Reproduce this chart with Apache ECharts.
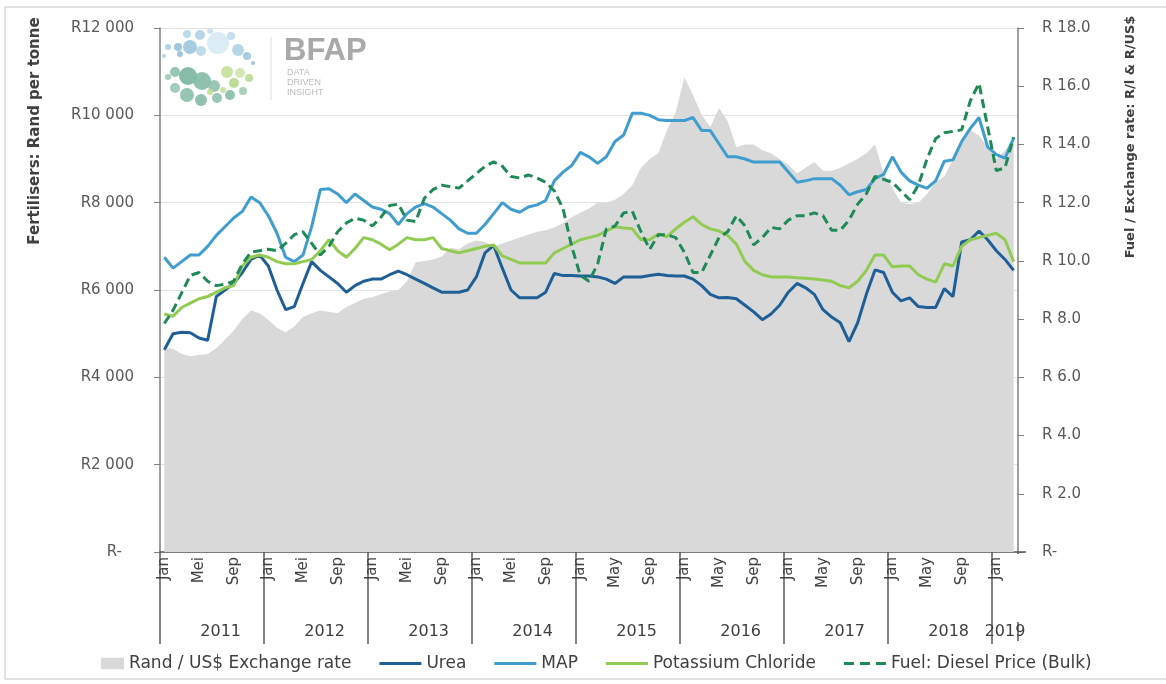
<!DOCTYPE html>
<html>
<head>
<meta charset="utf-8">
<script src="https://cdn.jsdelivr.net/npm/echarts@6/dist/echarts.min.js"></script>
<style>
html, body { margin: 0; padding: 0; background: #fff; }
#main { width: 1166px; height: 684px; }
</style>
</head>
<body>
<div id="main"></div>
<script>
// x axis: months per year, Afrikaans labels up to 2014, English after
var years = ['2011', '2012', '2013', '2014', '2015', '2016', '2017', '2018', '2019'];
var monthsInYear = [12, 12, 12, 12, 12, 12, 12, 12, 3];
var monthsAfr = ['Jan', 'Feb', 'Mrt', 'Apr', 'Mei', 'Jun', 'Jul', 'Aug', 'Sep', 'Okt', 'Nov', 'Des'];
var monthsEng = ['Jan', 'Feb', 'Mar', 'Apr', 'May', 'Jun', 'Jul', 'Aug', 'Sep', 'Oct', 'Nov', 'Dec'];
var afrYears = ['2011', '2012', '2013', '2014'];

// Rand / US$ exchange rate (right axis)
var exchangeRate = [
    7.0, 6.98, 6.8, 6.72, 6.77, 6.8, 7.0, 7.3, 7.6, 8.0, 8.3, 8.2,
    7.97, 7.7, 7.55, 7.75, 8.07, 8.2, 8.3, 8.25, 8.2, 8.42, 8.55, 8.7,
    8.75, 8.85, 8.95, 9.0, 9.3, 9.95, 10.0, 10.05, 10.15, 10.45, 10.4, 10.6,
    10.7, 10.65, 10.5, 10.6, 10.7, 10.8, 10.9, 11.0, 11.05, 11.15, 11.3, 11.5,
    11.65, 11.8, 12.0, 12.0, 12.1, 12.3, 12.6, 13.2, 13.5, 13.7, 14.5, 15.1,
    16.3, 15.7, 15.0, 14.6, 15.25, 14.8, 13.9, 14.0, 14.0, 13.8, 13.7, 13.5,
    13.3, 13.0, 13.2, 13.4, 13.1, 13.1, 13.2, 13.35, 13.5, 13.7, 14.0, 13.0,
    12.5, 12.0, 11.95, 12.0, 12.3, 12.7, 12.9, 13.5, 14.1, 14.5, 14.3, 13.9,
    13.5, 13.8, 14.15
];

// fertiliser prices, Rand per tonne (left axis)
var urea = [
    4630, 5000, 5030, 5020, 4900, 4850, 5850, 6000, 6150, 6400, 6700, 6800,
    6550, 6000, 5550, 5620, 6150, 6650, 6450, 6300, 6150, 5950, 6100, 6200,
    6250, 6250, 6350, 6430, 6350, 6250, 6150, 6050, 5950, 5950, 5950, 6000,
    6300, 6850, 7020, 6500, 6000, 5820, 5820, 5820, 5950, 6380, 6330, 6330,
    6320, 6320, 6300, 6250, 6150, 6300, 6300, 6300, 6330, 6360, 6330, 6320,
    6320, 6250, 6100, 5900, 5820, 5830, 5800, 5650, 5500, 5320, 5450, 5650,
    5950, 6150, 6050, 5900, 5550, 5380, 5250, 4820, 5250, 5900, 6460, 6400,
    5950, 5750, 5820, 5620, 5600, 5600, 6030, 5850, 7100, 7150, 7350, 7150,
    6900, 6700, 6450
];
var map = [
    6750, 6500, 6650, 6800, 6800, 7000, 7250, 7450, 7650, 7800, 8130, 8000,
    7700, 7300, 6750, 6650, 6800, 7450, 8300, 8320, 8200, 8000, 8200, 8050,
    7900, 7850, 7750, 7500, 7750, 7900, 7980, 7900, 7750, 7600, 7400, 7300,
    7300, 7500, 7750, 8000, 7850, 7780, 7900, 7950, 8050, 8500, 8700, 8850,
    9150, 9050, 8900, 9050, 9400, 9550, 10050, 10050, 10000, 9900, 9880, 9880,
    9880, 9950, 9650, 9650, 9350, 9050, 9050, 9000, 8930, 8930, 8930, 8930,
    8700, 8470, 8500, 8550, 8550, 8550, 8400, 8180, 8250, 8300, 8550, 8650,
    9050, 8700, 8500, 8400, 8330, 8500, 8950, 8980, 9400, 9700, 9950, 9280,
    9100, 9020, 9480
];
var potassium = [
    5450, 5400, 5600, 5700, 5800, 5850, 5950, 6050, 6100, 6550, 6750, 6800,
    6750, 6650, 6600, 6600, 6650, 6700, 6900, 7150, 6900, 6750, 6950, 7200,
    7150, 7050, 6920, 7050, 7200, 7150, 7150, 7200, 6950, 6900, 6850, 6900,
    6950, 7000, 7030, 6780, 6700, 6620, 6620, 6620, 6620, 6850, 6950, 7050,
    7150, 7200, 7250, 7350, 7450, 7420, 7400, 7150, 7150, 7280, 7220, 7400,
    7550, 7680, 7500, 7400, 7350, 7250, 7050, 6650, 6450, 6350, 6300, 6300,
    6300, 6280, 6270, 6250, 6230, 6200, 6100, 6050, 6200, 6450, 6800, 6800,
    6530, 6550, 6550, 6350, 6250, 6180, 6600, 6550, 7000, 7150, 7200, 7250,
    7300, 7150, 6650
];
// diesel price, Rand per litre (right axis)
var diesel = [
    7.85, 8.3, 8.9, 9.5, 9.6, 9.3, 9.15, 9.2, 9.3, 9.9, 10.3, 10.35,
    10.4, 10.35, 10.6, 10.9, 11.0, 10.6, 10.2, 10.5, 11.0, 11.3, 11.47, 11.4,
    11.2, 11.5, 11.9, 11.95, 11.4, 11.35, 12.15, 12.45, 12.6, 12.55, 12.5, 12.75,
    13.0, 13.25, 13.4, 13.25, 12.9, 12.85, 12.95, 12.85, 12.7, 12.4, 11.8, 10.5,
    9.5, 9.3, 9.9, 11.1, 11.2, 11.65, 11.7, 11.0, 10.4, 10.9, 10.9, 10.8,
    10.3, 9.6, 9.6, 10.2, 10.8, 11.0, 11.55, 11.2, 10.55, 10.8, 11.15, 11.1,
    11.4, 11.55, 11.55, 11.65, 11.55, 11.05, 11.05, 11.4, 11.95, 12.3, 12.9, 12.8,
    12.7, 12.4, 12.1, 12.6, 13.5, 14.2, 14.4, 14.45, 14.5, 15.5, 16.1, 14.6,
    13.1, 13.2, 14.25
];

// BFAP logo dots: x, y, radius, colour
var logoDots = [
    [168, 47, 3, '#a9cfe3'], [178, 47, 4, '#93c0dc'], [187, 34, 4, '#b5d6e8'], [190, 47, 7, '#9cc6de'],
    [200, 35, 5, '#b0d3e6'], [210, 31, 3, '#c4e1ee'], [218, 43, 11, '#d6eaf3'], [231, 36, 4, '#c0dcea'],
    [238, 50, 6, '#aed1e4'], [247, 56, 4, '#9cc6de'], [253, 63, 2, '#93c0dc'], [201, 51, 5, '#b8d8e8'],
    [180, 54, 3, '#93c0dc'], [164, 56, 2, '#a9cfe3'],
    [168, 77, 3, '#9dcab6'], [175, 72, 5, '#8cc0aa'], [188, 76, 9, '#7ab59e'], [202, 81, 9, '#83baa3'],
    [214, 86, 6, '#8fc1ab'], [227, 72, 6, '#c3df98'], [240, 73, 5, '#cfe6ab'], [249, 78, 4, '#bcdb92'],
    [234, 83, 5, '#b5d78c'], [243, 91, 4, '#a3ccb7'], [230, 95, 5, '#88bea6'], [217, 98, 5, '#8fc1ab'],
    [201, 100, 6, '#84bba4'], [187, 95, 7, '#8bbfa8'], [175, 88, 5, '#9bc8b4'], [210, 92, 3, '#c0dd96'],
    [223, 90, 3, '#c3df9b']
];

var monthCats = [];
var yearCats = [];
years.forEach(function(y, k) {
    var names = afrYears.indexOf(y) >= 0 ? monthsAfr : monthsEng;
    for (var m = 0; m < monthsInYear[k]; m++) {
        monthCats.push(names[m]);
        yearCats.push(y);
    }
});
var lastIdx = monthCats.length - 1;

function randThousands(v) {
    if (v === 0) return '{z|R-}';
    var s = String(v);
    return 'R' + s.slice(0, s.length - 3) + ' ' + s.slice(s.length - 3);
}

var axisGrey = '#7f7f7f';
var textGrey = '#595959';
var font = 'DejaVu Sans';

var graphics = [
    { type: 'rect', shape: { x: 5, y: 7, width: 1180, height: 672 }, style: { fill: 'none', stroke: '#c8c8c8', lineWidth: 1 }, silent: true },
    // the year axis adds a closing tick at the plot's right edge; hide it above and below the 2019 label
    { type: 'rect', shape: { x: 1015, y: 554, width: 7, height: 68 }, style: { fill: '#fff' }, silent: true, z: 100 },
    { type: 'rect', shape: { x: 1015, y: 641, width: 7, height: 6 }, style: { fill: '#fff' }, silent: true, z: 100 },
    { type: 'line', shape: { x1: 1018, y1: 552, x2: 1026, y2: 552 }, style: { stroke: '#595959', lineWidth: 1.5 }, silent: true, z: 101 },
    { type: 'line', shape: { x1: 271, y1: 37, x2: 271, y2: 100 }, style: { stroke: '#dedede', lineWidth: 1 } },
    { type: 'text', x: 284, y: 36, style: { text: 'BFAP', font: 'bold 31px "Liberation Sans"', fill: '#a9a9a9' } },
    { type: 'text', x: 287, y: 68, style: { text: 'DATA\nDRIVEN\nINSIGHT', font: '9px "Liberation Sans"', lineHeight: 10, fill: '#bdbdbd' } },
    { type: 'text', x: 35, y: 131, rotation: Math.PI / 2,
      style: { text: 'Fertilisers: Rand per tonne', font: 'bold 15px "DejaVu Sans"', fill: '#404040', align: 'center', verticalAlign: 'middle' } },
    { type: 'text', x: 1131, y: 137, rotation: Math.PI / 2,
      style: { text: 'Fuel / Exchange rate: R/l & R/US$', font: 'bold 13px "DejaVu Sans"', fill: '#404040', align: 'center', verticalAlign: 'middle' } }
];
logoDots.forEach(function(d) {
    graphics.push({ type: 'circle', shape: { cx: d[0], cy: d[1], r: d[2] }, style: { fill: d[3], opacity: 0.9 }, silent: true });
});

var lineIcon = 'path://M0,0h42v3h-42z';
var dashIcon = 'path://M0,0h10v3h-10z M16,0h10v3h-10z M32,0h10v3h-10z';
var boxIcon = 'path://M0,0 M18,0h22v11h-22z';

var chart = echarts.init(document.getElementById('main'));

var option = {
    backgroundColor: '#fff',
    animation: false,
    textStyle: { fontFamily: font },
    grid: { left: 160, right: 148, top: 28, bottom: 132, containLabel: false },
    legend: {
        bottom: 7,
        left: 77,
        itemWidth: 42,
        itemHeight: 12,
        itemGap: 28,
        symbolKeepAspect: true,
        textStyle: { fontSize: 17, color: '#404040', fontFamily: font },
        data: [
            { name: 'Rand / US$ Exchange rate', icon: boxIcon },
            { name: 'Urea', icon: lineIcon },
            { name: 'MAP', icon: lineIcon },
            { name: 'Potassium Chloride', icon: lineIcon },
            { name: 'Fuel: Diesel Price (Bulk)', icon: dashIcon }
        ]
    },
    xAxis: [
        {
            type: 'category',
            data: monthCats,
            boundaryGap: true,
            axisLine: { lineStyle: { color: '#595959', width: 1.5 } },
            axisTick: { show: false },
            axisLabel: {
                rotate: 90,
                interval: function(i) { return i % 4 === 0; },
                margin: 5,
                fontSize: 15,
                color: '#404040',
                fontFamily: font
            },
            splitLine: { show: false }
        },
        {
            type: 'category',
            data: yearCats,
            boundaryGap: true,
            position: 'bottom',
            axisLine: { show: false },
            axisTick: {
                show: true,
                interval: function(i) { return i % 12 === 0; },
                length: 92,
                lineStyle: { color: '#595959', width: 1.5 }
            },
            axisLabel: {
                interval: function(i) { return i % 12 === 6 || i === lastIdx - 1; },
                margin: 72,
                fontSize: 16,
                color: '#404040',
                fontFamily: font,
                formatter: function(v, i) { return i === lastIdx - 1 ? v : '{y|' + v + '}'; },
                rich: { y: { padding: [0, 0, 0, 8.6], fontSize: 16, color: '#404040', fontFamily: font } }
            },
            splitLine: { show: false }
        }
    ],
    yAxis: [
        {
            type: 'value',
            min: 0, max: 12000, interval: 2000,
            axisLine: { show: true, lineStyle: { color: axisGrey, width: 1.5 } },
            axisTick: { show: true, length: 6, lineStyle: { color: axisGrey } },
            axisLabel: {
                formatter: randThousands, fontSize: 15, color: textGrey, margin: 26, fontFamily: font,
                rich: { z: { padding: [0, 12, 0, 0], fontSize: 15, color: textGrey, fontFamily: font } }
            },
            splitLine: { show: true, lineStyle: { color: '#e3e3e3', width: 1 } }
        },
        {
            type: 'value',
            min: 0, max: 18, interval: 2,
            position: 'right',
            axisLine: { show: true, lineStyle: { color: axisGrey, width: 1.5 } },
            axisTick: { show: true, length: 6, lineStyle: { color: axisGrey } },
            axisLabel: {
                formatter: function(v) { return v === 0 ? 'R-' : 'R ' + v.toFixed(1); },
                fontSize: 15, color: textGrey, margin: 24, fontFamily: font
            },
            splitLine: { show: false }
        }
    ],
    series: [
        {
            name: 'Rand / US$ Exchange rate',
            type: 'line',
            yAxisIndex: 1,
            data: exchangeRate,
            showSymbol: false,
            symbol: 'none',
            lineStyle: { width: 0 },
            itemStyle: { color: '#d9d9d9' },
            areaStyle: { color: '#d9d9d9', opacity: 1 },
            z: 1
        },
        {
            name: 'Urea',
            type: 'line',
            data: urea,
            symbol: 'none',
            itemStyle: { color: '#1f5f97' },
            lineStyle: { color: '#1f5f97', width: 3 },
            z: 3
        },
        {
            name: 'MAP',
            type: 'line',
            data: map,
            symbol: 'none',
            itemStyle: { color: '#3f9dcf' },
            lineStyle: { color: '#3f9dcf', width: 3 },
            z: 3
        },
        {
            name: 'Potassium Chloride',
            type: 'line',
            data: potassium,
            symbol: 'none',
            itemStyle: { color: '#92cb52' },
            lineStyle: { color: '#92cb52', width: 3 },
            z: 3
        },
        {
            name: 'Fuel: Diesel Price (Bulk)',
            type: 'line',
            yAxisIndex: 1,
            data: diesel,
            symbol: 'none',
            itemStyle: { color: '#1e8a55' },
            lineStyle: { color: '#1e8a55', width: 3, type: [9, 5] },
            z: 4
        }
    ],
    graphic: graphics
};

chart.setOption(option);
</script>
</body>
</html>
